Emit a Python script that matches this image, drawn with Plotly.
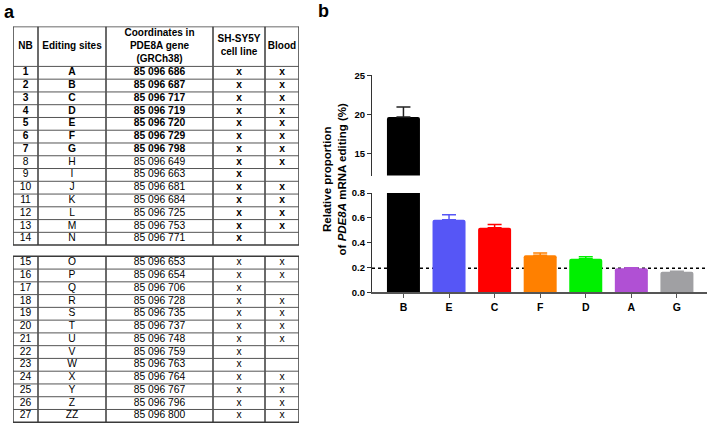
import plotly.graph_objects as go

# ---------------- Table data (panel a) ----------------
nb = [1, 2, 3, 4, 5, 6, 7, 8, 9, 10, 11, 12, 13, 14,
      15, 16, 17, 18, 19, 20, 21, 22, 23, 24, 25, 26, 27]
sites = ["A", "B", "C", "D", "E", "F", "G", "H", "I", "J", "K", "L", "M", "N",
         "O", "P", "Q", "R", "S", "T", "U", "V", "W", "X", "Y", "Z", "ZZ"]
coords = ["85 096 686", "85 096 687", "85 096 717", "85 096 719", "85 096 720",
          "85 096 729", "85 096 798", "85 096 649", "85 096 663", "85 096 681",
          "85 096 684", "85 096 725", "85 096 753", "85 096 771",
          "85 096 653", "85 096 654", "85 096 706", "85 096 728", "85 096 735",
          "85 096 737", "85 096 748", "85 096 759", "85 096 763", "85 096 764",
          "85 096 767", "85 096 796", "85 096 800"]
shsy5y = ["x"] * 27
blood = ["x", "x", "x", "x", "x", "x", "x", "x", "", "x", "x", "x", "x", "",
         "x", "x", "", "x", "x", "x", "x", "", "", "x", "x", "x", "x"]
header = ["NB", "Editing sites", "Coordinates in<br>PDE8A gene<br>(GRCh38)",
          "SH-SY5Y<br>cell line", "Blood"]

# ---------------- Bar data (panel b) ----------------
categories = ["B", "E", "C", "F", "D", "A", "G"]
values = [19.7, 0.585, 0.52, 0.30, 0.272, 0.194, 0.167]
errors = [1.25, 0.04, 0.027, 0.018, 0.016, 0.005, 0.004]
colors = ["#000000", "#5656F6", "#FF0000", "#FF8000", "#00F000", "#B050D4", "#A0A0A3"]
threshold = 0.195

W, H = 708, 429
def fx(px):
    return px / W
def fy(py):
    return 1 - py / H

FONT = "Liberation Sans, Arial, sans-serif"

def b(s):
    return f"<b>{s}</b>" if s else ""

n_bold = 7     # rows fully bold
n_top = 14     # rows in the first block
col_nb = [b(str(v)) if i < n_bold else str(v) for i, v in enumerate(nb)]
col_site = [b(v) if i < n_bold else v for i, v in enumerate(sites)]
col_coord = [b(v) if i < n_bold else v for i, v in enumerate(coords)]
col_sh = [b(v) if i < n_top else v for i, v in enumerate(shsy5y)]
col_bl = [b(v) if i < n_top else v for i, v in enumerate(blood)]
cols = [col_nb, col_site, col_coord, col_sh, col_bl]

# ---- table geometry (table axis units = pixels) ----
colw = [25, 68, 107, 52, 34]
HEADER_H = 41
ROW_H = 13.1
GAP = 11.5
edges = [0]
for w in colw:
    edges.append(edges[-1] + w)
centers = [(edges[i] + edges[i + 1]) / 2 for i in range(len(colw))]
top_end = HEADER_H + n_top * ROW_H
bot_start = top_end + GAP
n_bot = len(nb) - n_top
bot_end = bot_start + n_bot * ROW_H

def row_center(i):
    if i < n_top:
        return HEADER_H + (i + 0.5) * ROW_H
    return bot_start + (i - n_top + 0.5) * ROW_H

tx, ty, tt = [], [], []
for ci, col in enumerate(cols):
    for ri, v in enumerate(col):
        if v:
            tx.append(centers[ci]); ty.append(row_center(ri)); tt.append(v)

hx, hy, ht = [], [], []
for ci, h in enumerate(header):
    hx.append(centers[ci]); hy.append(HEADER_H / 2); ht.append(f"<b>{h}</b>")

fig = go.Figure()
fig.add_trace(go.Scatter(x=tx, y=ty, text=tt, mode="text", xaxis="x3", yaxis="y3",
                         textposition="middle center", hoverinfo="skip",
                         textfont=dict(family=FONT, size=10.3, color="black"),
                         showlegend=False))
fig.add_trace(go.Scatter(x=hx, y=hy, text=ht, mode="text", xaxis="x3", yaxis="y3",
                         textposition="middle center", hoverinfo="skip",
                         textfont=dict(family=FONT, size=10, color="black"),
                         showlegend=False))

shapes = []
VLINE = dict(color="#3a3a3a", width=1.5)
HLINE = dict(color="#555555", width=1)
for y0, y1 in [(0, top_end), (bot_start, bot_end)]:
    for e in edges:
        shapes.append(dict(type="line", xref="x3", yref="y3", x0=e, x1=e,
                           y0=y0, y1=y1, line=VLINE))
hl = [0, HEADER_H] + [HEADER_H + k * ROW_H for k in range(1, n_top + 1)]
hl += [bot_start + k * ROW_H for k in range(0, n_bot + 1)]
for yv in hl:
    outer = yv in (0, top_end, bot_start, bot_end)
    shapes.append(dict(type="line", xref="x3", yref="y3", x0=0, x1=edges[-1],
                       y0=yv, y1=yv, line=VLINE if outer else HLINE))

# ---- bar chart: lower and upper segments of broken axis ----
for xa, ya in [("x", "y"), ("x2", "y2")]:
    for c, v, e, col in zip(categories, values, errors, colors):
        fig.add_trace(go.Bar(
            x=[c], y=[v], xaxis=xa, yaxis=ya,
            marker=dict(color=col, line=dict(width=0), cornerradius=2),
            error_y=dict(type="data", symmetric=False, array=[e], arrayminus=[0],
                         width=7, thickness=1.5,
                         color="#222222" if col == "#000000" else col),
            showlegend=False, width=0.724, hoverinfo="skip",
        ))

shapes.append(dict(type="line", xref="x domain", x0=0, x1=1, yref="y",
                   y0=threshold, y1=threshold, layer="below",
                   line=dict(color="black", width=1.5, dash="dot")))

axis_font = dict(family=FONT, size=10.5, color="black", weight="bold")
tick_font = dict(family=FONT, size=9.5, color="black", weight="bold")
fig.update_layout(
    width=W, height=H, margin=dict(l=0, r=0, t=0, b=0),
    paper_bgcolor="white", plot_bgcolor="rgba(0,0,0,0)",
    barmode="overlay", showlegend=False,
    xaxis=dict(domain=[fx(372), fx(707)], anchor="y", type="category",
               categoryorder="array", categoryarray=categories,
               range=[-0.69, 6.66], showline=True, linecolor="#555555", linewidth=2,
               ticks="outside", ticklen=4, tickcolor="#555555", tickwidth=1,
               tickfont=axis_font, showgrid=False, zeroline=False, fixedrange=True),
    xaxis2=dict(domain=[fx(372), fx(707)], anchor="y2", matches="x",
                type="category", visible=False),
    yaxis=dict(domain=[fy(294), fy(192)], anchor="x", range=[0, 0.8],
               tickvals=[0, 0.2, 0.4, 0.6, 0.8], tickformat=".1f",
               showline=True, linecolor="#333333", linewidth=1.2,
               ticks="outside", ticklen=4, tickcolor="#333333",
               tickfont=tick_font, showgrid=False, zeroline=False),
    yaxis2=dict(domain=[fy(174), fy(71)], anchor="x2", range=[12.25, 25],
                tickvals=[15, 20, 25],
                showline=True, linecolor="#333333", linewidth=1.2,
                ticks="outside", ticklen=4, tickcolor="#333333",
                tickfont=tick_font, showgrid=False, zeroline=False),
    xaxis3=dict(domain=[fx(13), fx(299)], anchor="y3", range=[0, edges[-1]],
                visible=False),
    yaxis3=dict(domain=[fy(429), fy(21)], anchor="x3", range=[408, 0],
                visible=False),
    shapes=shapes,
    annotations=[
        dict(text="<b>a</b>", x=fx(2), y=fy(6), xref="paper", yref="paper",
             xanchor="left", yanchor="middle", showarrow=False,
             font=dict(family=FONT, size=18, color="black")),
        dict(text="<b>b</b>", x=fx(316), y=fy(5), xref="paper", yref="paper",
             xanchor="left", yanchor="middle", showarrow=False,
             font=dict(family=FONT, size=18, color="black")),
        dict(text="<b>Relative proportion<br>of <i>PDE8A</i> mRNA editing (%)</b>",
             x=fx(334), y=fy(178), xref="paper", yref="paper",
             xanchor="center", yanchor="middle", textangle=-90, showarrow=False,
             font=dict(family=FONT, size=11.5, color="black")),
    ],
)

fig.write_html("out.html", config={"displayModeBar": False},
               post_script="document.body.style.margin='0';document.body.style.padding='0';")
